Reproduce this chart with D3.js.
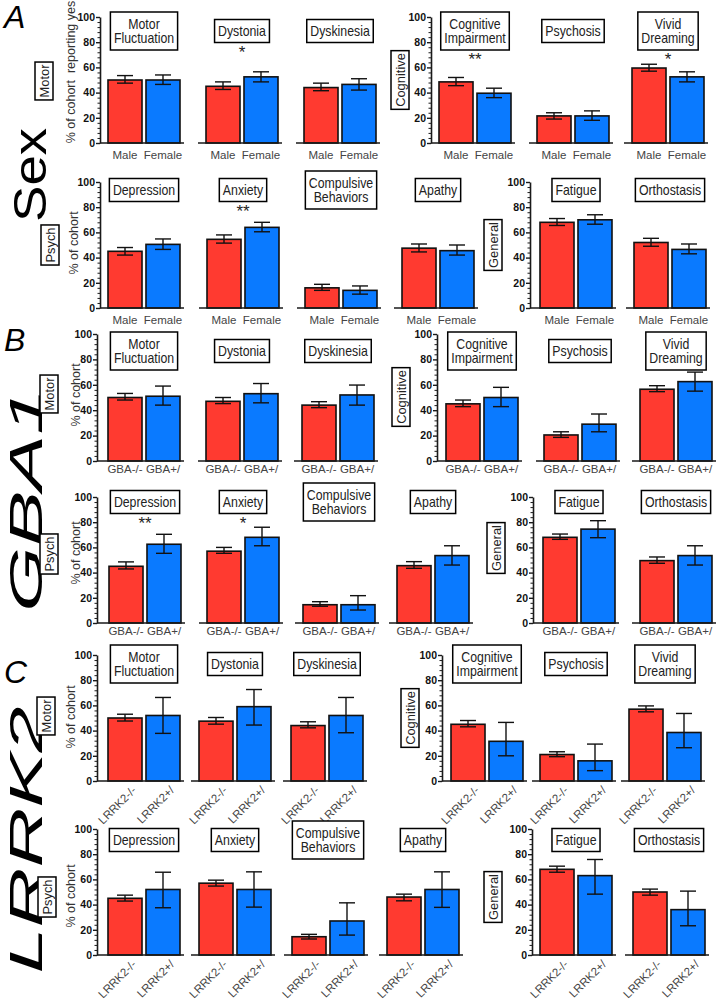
<!DOCTYPE html>
<html><head><meta charset="utf-8">
<script src="https://cdn.jsdelivr.net/npm/d3@7"></script>
<style>
body{margin:0;background:#fff}
svg{display:block}
text{font-family:"Liberation Sans",Arial,Helvetica,sans-serif}
</style>
</head><body>
<svg id="c" width="720" height="1000"></svg>
<script>
// ---------------- DATA ----------------
const symptoms = ["Motor Fluctuation","Dystonia","Dyskinesia","Cognitive Impairment","Psychosis","Vivid Dreaming",
                  "Depression","Anxiety","Compulsive Behaviors","Apathy","Fatigue","Orthostasis"];
const domains = ["Motor","Cognitive","Psych","General"];
const yTicks = [0,20,40,60,80,100];

const sexGroups = ["Male","Female"];
const sexMale     = [50,45,44,48.5,21.5,59.5,45,54.5,16,47.5,68,52];
const sexMaleLo   = [47.5,42.5,41.5,45.5,19,57,42,51.5,14,44.5,65.5,49];
const sexMaleHi   = [53.5,48.5,47.5,52,24,62.5,48,58,18.8,50.8,71,55.3];
const sexFemale   = [50,52.5,46.5,39.5,21.5,52.5,50.5,64,14,45.5,70,46.5];
const sexFemaleLo = [46.5,48.5,42,36,18,48.5,46.5,60.5,11,42,66.5,43];
const sexFemaleHi = [54,56.5,51,43.5,25.5,56.5,54.8,68,17.5,50,74,50.8];
const sexSig      = ["","*","","**","","*","","**","","","",""];

const gbaGroups = ["GBA-/-","GBA+/"];
const gbaNeg   = [50,47,44,45,20.5,56.5,45,57,14.5,45.5,68,49.5];
const gbaNegLo = [48,45.2,42,42.8,18.6,54.6,42.9,55.3,13.3,43.4,66.4,47.4];
const gbaNegHi = [53.2,50,46.7,48,23,59.3,48.5,60,16.9,48.7,70.6,52.4];
const gbaPos   = [51,53,52,50,29,62.5,62.5,68,14.5,53.5,74.5,53.5];
const gbaPosLo = [44,45.8,44,42.8,23,55,55.3,61.3,10.3,46,67.7,46];
const gbaPosHi = [59,61,59.8,58,37,70,70.4,76,21.7,61.3,81.2,61.3];
const gbaSig   = ["","","","","","","**","*","","","",""];

const lrrkGroups = ["LRRK2-/-","LRRK2+/"];
const lrrkNeg   = [50,47.5,44,45,21,57,45,57,14.5,46,68,50];
const lrrkNegLo = [47.6,45.1,42.2,43,19.3,54.9,42.8,54.7,12.7,43,65.7,47.5];
const lrrkNegHi = [53,50.4,47,48,23.2,59.6,47.5,59.4,16.4,48.3,70.5,52.3];
const lrrkPos   = [52,59,52,31.5,16,38.5,52,52,27,52,63,36];
const lrrkPosLo = [37.8,44.4,38.3,20,8.2,26.4,37.5,38,15.8,37.8,48.3,23.2];
const lrrkPosHi = [66.3,72.6,66.3,46.5,29.3,53.6,65.7,66,41.4,66,75.8,50.7];
const lrrkSig   = ["","","","","","","","","","","",""];

const sections = [
  {key:"A", name:"Sex",   groups:sexGroups,  a:sexMale, aLo:sexMaleLo, aHi:sexMaleHi, b:sexFemale, bLo:sexFemaleLo, bHi:sexFemaleHi, sig:sexSig},
  {key:"B", name:"GBA1",  groups:gbaGroups,  a:gbaNeg,  aLo:gbaNegLo,  aHi:gbaNegHi,  b:gbaPos,    bLo:gbaPosLo,    bHi:gbaPosHi,    sig:gbaSig},
  {key:"C", name:"LRRK2", groups:lrrkGroups, a:lrrkNeg, aLo:lrrkNegLo, aHi:lrrkNegHi, b:lrrkPos,   bLo:lrrkPosLo,   bHi:lrrkPosHi,   sig:lrrkSig}
];

// ---------------- LAYOUT ----------------
const layout = {
  A:{letterY:28, nameX:46, nameY:175, nameSize:52, sx:1.05, sy:0.9, italic:false, labelMode:"flat", labelDy:16, rows:[
    {top:17, bottom:143, titleY:31, yl:{x:75,y:72,t:"% of cohort  reporting yes"}, groups:[
      {axis:100, starts:[108,206,304], sym:[0,1,2], dom:0, dx:44, dy:81},
      {axis:431, starts:[439,537,632], sym:[3,4,5], dom:1, dx:400, dy:80}]},
    {top:182, bottom:308, titleY:190, yl:{x:78,y:243,t:"% of cohort"}, groups:[
      {axis:100, starts:[108,207,305,402], sym:[6,7,8,9], dom:2, dx:50, dy:245},
      {axis:530, starts:[540,634], sym:[10,11], dom:3, dx:493, dy:245}]}
  ]},
  B:{letterY:351, nameX:42, nameY:500, nameSize:60, sx:1.4, sy:0.76, italic:true, labelMode:"flat", labelDy:12, rows:[
    {top:334, bottom:461, titleY:351, yl:{x:80,y:395,t:"% of cohort"}, groups:[
      {axis:97, starts:[108,206,302], sym:[0,1,2], dom:0, dx:49, dy:394},
      {axis:437, starts:[446,544,640], sym:[3,4,5], dom:1, dx:401, dy:397}]},
    {top:497, bottom:623, titleY:502, yl:{x:80,y:553,t:"% of cohort"}, groups:[
      {axis:97, starts:[109,207,303,397], sym:[6,7,8,9], dom:2, dx:49, dy:554},
      {axis:533, starts:[543,640], sym:[10,11], dom:3, dx:496, dy:548}]}
  ]},
  C:{letterY:683, nameX:42, nameY:840, nameSize:60, sx:1.38, sy:0.76, italic:true, labelMode:"rot", labelDy:10, rows:[
    {top:655, bottom:781, titleY:664, yl:{x:75,y:717,t:"% of cohort"}, groups:[
      {axis:97, starts:[108,199,291], sym:[0,1,2], dom:0, dx:46, dy:716},
      {axis:442, starts:[451,540,629], sym:[3,4,5], dom:1, dx:410, dy:718}]},
    {top:829, bottom:955, titleY:840, yl:{x:75,y:896,t:"% of cohort"}, groups:[
      {axis:97, starts:[108,199,292,387], sym:[6,7,8,9], dom:2, dx:47, dy:897},
      {axis:532, starts:[540,633], sym:[10,11], dom:3, dx:493, dy:897}]}
  ]}
};

const RED = "#ff3a30", BLUE = "#0a7aff", INK = "#1a1a1a";
const SQ = 0.88; // horizontal condensing of box titles
const svg = d3.select("#c");

function box(g, lines, cx, cy, rotate) {
  const grp = g.append("g").attr("transform", `translate(${cx},${cy})${rotate ? " rotate(-90)" : ""}`);
  const lh = 14.5;
  const rect = grp.append("rect");
  const fs = 14;
  const txt = grp.append("text").attr("text-anchor","middle").attr("font-size",fs).attr("fill","#222")
     .attr("transform", rotate ? "scale(0.92,0.9)" : `scale(${SQ},1)`);
  const n = lines.length;
  lines.forEach((ln, i) => {
    txt.append("tspan").attr("x",0).attr("y", (i - (n-1)/2) * lh + 5).text(ln);
  });
  let w = 0;
  txt.selectAll("tspan").each(function(){ w = Math.max(w, this.getComputedTextLength()); });
  w *= rotate ? 0.92 : SQ;
  const h = n === 1 ? 23 : 38;
  const bw = rotate ? w + 5 : w + 7;
  const bh = rotate ? 18 : h;
  rect.attr("x", -bw/2).attr("y", -bh/2).attr("width", bw).attr("height", bh)
      .attr("fill","#fff").attr("stroke","#000").attr("stroke-width",1.5);
  return bh;
}

sections.forEach(sec => {
  const L = layout[sec.key];
  svg.append("text").attr("x",4).attr("y",L.letterY).attr("font-size",32).attr("font-style","italic").attr("fill","#000").text(sec.key);
  svg.append("text").attr("transform",`translate(${L.nameX},${L.nameY}) rotate(-90) scale(${L.sx},${L.sy})`)
     .attr("text-anchor","middle").attr("font-size",L.nameSize)
     .attr("font-style", L.italic ? "italic" : "normal").attr("fill","#000").text(sec.name);

  L.rows.forEach(row => {
    const y = d3.scaleLinear().domain([0,100]).range([row.bottom,row.top]);
    svg.append("text").attr("transform",`translate(${row.yl.x},${row.yl.y}) rotate(-90)`)
       .attr("text-anchor","middle").attr("font-size",12.5).attr("fill","#333")
       .style("white-space","pre").text(row.yl.t);

    row.groups.forEach(g => {
      box(svg, [domains[g.dom]], g.dx, g.dy, true);
      const minor = d3.range(0,101,4).filter(v => v % 20 !== 0);
      const axMinor = svg.append("g").attr("transform",`translate(${g.axis},0)`)
        .call(d3.axisLeft(y).tickValues(minor).tickSize(2.5).tickSizeOuter(0).tickFormat(""));
      axMinor.select(".domain").remove();
      axMinor.selectAll("line").attr("stroke",INK).attr("stroke-width",1);
      const ax = svg.append("g").attr("transform",`translate(${g.axis},0)`)
        .call(d3.axisLeft(y).tickValues(yTicks).tickSize(4).tickSizeOuter(0).tickPadding(1));
      ax.select(".domain").attr("stroke",INK).attr("stroke-width",1.6);
      ax.selectAll(".tick line").attr("stroke",INK).attr("stroke-width",1.4);
      ax.selectAll(".tick text").attr("font-size",10.5).attr("font-weight","bold").attr("fill","#111")
        .attr("font-family",'"Liberation Sans",Arial,sans-serif');

      g.sym.forEach((si, k) => {
        const x0 = g.starts[k];
        const x = d3.scaleBand().domain(sec.groups).range([x0, x0+72]).paddingInner(0.105).paddingOuter(0);
        const vals = [
          {grp:sec.groups[0], v:sec.a[si], lo:sec.aLo[si], hi:sec.aHi[si], c:RED},
          {grp:sec.groups[1], v:sec.b[si], lo:sec.bLo[si], hi:sec.bHi[si], c:BLUE}
        ];
        const pg = svg.append("g");
        pg.selectAll("rect.bar").data(vals).join("rect").attr("class","bar")
          .attr("x", d => x(d.grp)).attr("y", d => y(d.v))
          .attr("width", x.bandwidth()).attr("height", d => y(0) - y(d.v))
          .attr("fill", d => d.c).attr("stroke","#111").attr("stroke-width",1.6);
        const bx0 = k === 0 ? g.axis : x0 - 8;
        pg.append("line").attr("x1",bx0).attr("x2",x0+76).attr("y1",y(0)).attr("y2",y(0))
          .attr("stroke",INK).attr("stroke-width",1.6);
        vals.forEach(d => {
          const cx = x(d.grp) + x.bandwidth()/2;
          pg.append("line").attr("x1",cx).attr("x2",cx).attr("y1",y(d.lo)).attr("y2",y(d.hi)).attr("stroke","#111").attr("stroke-width",1.4);
          [d.lo, d.hi].forEach(e => pg.append("line").attr("x1",cx-8).attr("x2",cx+8).attr("y1",y(e)).attr("y2",y(e)).attr("stroke","#111").attr("stroke-width",1.4));
          if (L.labelMode === "flat") {
            pg.append("text").attr("x",cx).attr("y",y(0)+L.labelDy).attr("text-anchor","middle")
              .attr("font-size",11.5).attr("fill","#444").text(d.grp);
          } else {
            pg.append("text").attr("transform",`translate(${cx+12},${y(0)+L.labelDy}) rotate(-45)`)
              .attr("text-anchor","end").attr("font-size",11.5).attr("fill","#444").text(d.grp);
          }
        });
        const cxp = x0 + 36;
        const bh = box(svg, symptoms[si].split(" "), cxp, row.titleY, false);
        if (sec.sig[si]) {
          svg.append("text").attr("x",cxp).attr("y",row.titleY + bh/2 + 15).attr("text-anchor","middle")
             .attr("font-size",17).attr("fill","#222").text(sec.sig[si]);
        }
      });
    });
  });
});
</script>
</body></html>
